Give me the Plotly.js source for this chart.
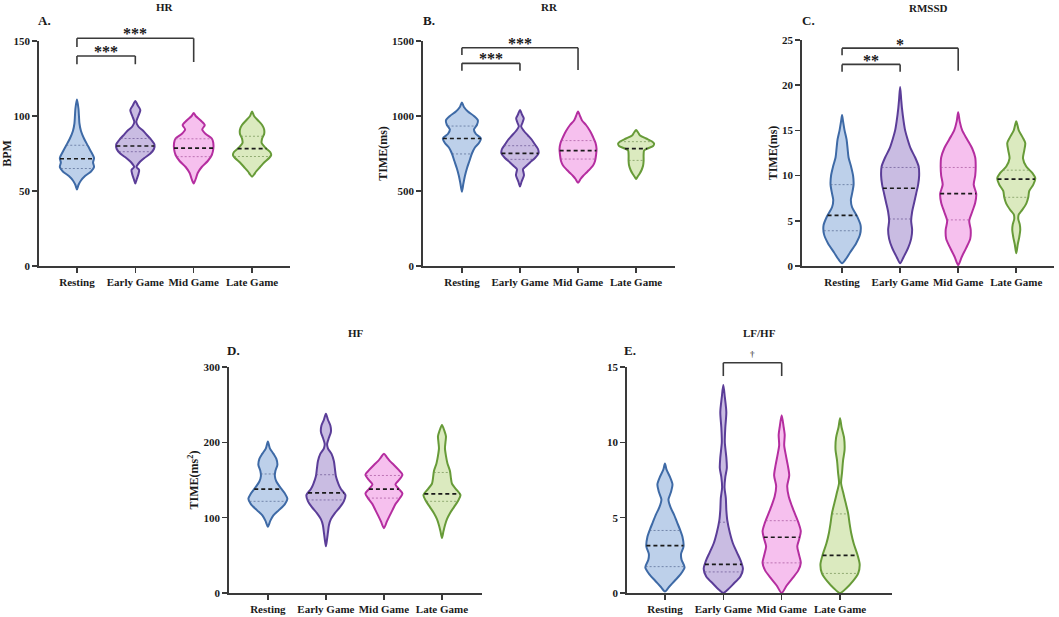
<!DOCTYPE html>
<html>
<head>
<meta charset="utf-8">
<script src="https://cdn.plot.ly/plotly-3.0.1.min.js"></script>
<style>
  html, body { margin: 0; padding: 0; background: #fff; }
  #chart { width: 1059px; height: 617px; }
</style>
</head>
<body>
<div id="chart"></div>
<script>
// groups
var cats = ['Resting', 'Early Game', 'Mid Game', 'Late Game'];

// violin outlines: levels (top -> bottom) and relative density at each level

// A. HR (BPM)
var hrY = [
  [111, 105, 100, 95, 90, 85, 80, 75, 72, 69, 66, 63, 60, 57, 54, 51],
  [110, 107, 104, 100, 96, 93, 90, 87, 84, 81, 78, 75, 72, 69, 66, 64, 61, 58, 55],
  [102, 100, 97, 94, 91, 88, 85, 82, 78, 74, 70, 66, 62, 58, 55],
  [103, 100, 97, 94, 91, 88, 85, 82, 79, 76, 74, 72, 69, 66, 63, 61, 59.5]
];
var hrD = [
  [0, 1.5, 2, 2.5, 4, 7, 11, 15, 17, 16, 17, 14, 8, 4, 1.5, 0],
  [0, 2.5, 5, 3, 1, 3, 8, 12, 16, 19, 18.5, 15, 9, 4, 1.2, 3.8, 3, 1.5, 0],
  [0, 2, 7, 11, 8.5, 12, 18, 19.5, 19.5, 18, 14, 8, 4, 2, 0],
  [0, 2, 6, 10, 12, 12, 10, 9.5, 13, 18, 19, 17, 12, 8, 4, 2, 0]
];
var hrMed = [71.5, 80, 78.6, 78.2];
var hrQ1 = [65, 76.2, 72.9, 73];
var hrQ3 = [80.5, 85, 84.8, 86.5];

// B. RR (ms)
var rrY = [
  [1090, 1060, 1030, 1000, 970, 940, 910, 880, 850, 820, 790, 750, 700, 650, 600, 550, 495],
  [1040, 1010, 985, 955, 930, 900, 870, 840, 810, 780, 750, 720, 690, 665, 645, 625, 605, 585, 560, 530],
  [1030, 1000, 970, 940, 900, 860, 820, 780, 740, 700, 670, 640, 620, 600, 580, 555],
  [907, 890, 870, 850, 830, 815, 800, 785, 770, 740, 700, 670, 640, 615, 595, 580]
];
var rrD = [
  [0, 2, 6, 12, 16, 15, 12, 14, 19, 17, 13, 10, 7.5, 5, 3, 1.5, 0],
  [0, 2, 3.8, 2.5, 1.2, 4, 8, 12, 15, 18, 18.5, 15, 10, 6, 3, 3.5, 4, 3, 1.5, 0],
  [0, 2, 4, 8, 12, 15, 17.5, 18.5, 18, 17, 15, 11, 8, 5, 2.5, 0],
  [0, 2, 4, 10, 16, 18, 17, 12, 8, 7.5, 7.5, 7, 5.5, 3.5, 1.5, 0]
];
var rrMed = [850, 751, 769, 782];
var rrQ1 = [747, 711, 713, 704];
var rrQ3 = [933, 802, 836, 829];

// C. RMSSD (ms)
var rmY = [
  [16.7, 16, 15, 14, 13, 12, 11, 10, 9, 8, 7.3, 6.5, 5.5, 4.5, 3.5, 2.5, 1.5, 0.8, 0.3],
  [19.8, 18.5, 17.5, 16, 15, 14, 13, 12, 11, 10, 9, 8, 7, 6, 5, 4, 3, 2, 1, 0.3],
  [17, 16, 15, 14, 13, 12, 11, 10, 9, 8, 7, 6, 5, 4, 3, 2, 1, 0.1],
  [16, 15, 14.2, 13.6, 12.8, 11.9, 11, 10.3, 9.7, 9, 8.3, 7.6, 6.9, 6.2, 5.7, 5.2, 4.6, 4, 3.2, 2.4, 1.4]
];
var rmD = [
  [0, 1, 2.5, 4.5, 5.5, 6.5, 9, 11, 11.5, 10, 8.8, 10, 15, 18.5, 18, 14, 8, 4, 0],
  [0, 1, 1.8, 3.5, 5, 7.5, 10.5, 15, 18.5, 19, 18, 16, 14, 12, 11, 12, 11, 8, 3.5, 0],
  [0, 1.5, 4, 9, 14, 17, 17.5, 17, 15.5, 18, 17, 14, 11, 12.5, 12, 8, 3.5, 0],
  [0, 2.5, 6.5, 9, 8, 6.7, 10, 16, 19, 17, 13, 12, 10, 6, 2.5, 2, 3.5, 4, 3, 1.5, 0]
];
var rmMed = [5.6, 8.6, 8.0, 9.6];
var rmQ1 = [3.9, 5.2, 5.1, 7.6];
var rmQ3 = [9.0, 10.9, 10.9, 10.6];

// D. HF (ms^2)
var hfY = [
  [201, 192, 185, 178, 170, 162, 155, 148, 140, 132, 125, 118, 110, 103, 96, 88],
  [238, 230, 222, 214, 206, 198, 192, 185, 175, 165, 155, 145, 138, 130, 122, 114, 106, 98, 90, 80, 70, 62],
  [185, 180, 175, 170, 163, 157, 150, 144, 138, 132, 126, 118, 110, 102, 95, 86],
  [223, 215, 208, 200, 192, 182, 172, 162, 152, 145, 138, 130, 122, 114, 106, 98, 90, 82, 73]
];
var hfD = [
  [0, 2, 5.5, 8.5, 9.5, 7.5, 7, 8.5, 12.5, 17, 19.5, 17, 11, 5.5, 2.5, 0],
  [0, 2, 4.5, 5, 3, 1.2, 2, 5.5, 8, 9, 10, 12.5, 15, 19.5, 18, 14, 9, 5, 3, 2, 1, 0],
  [0, 3, 6, 10, 15, 18.5, 15, 11.5, 15, 18.5, 16, 11.5, 8.5, 5.5, 3, 0],
  [0, 2.5, 4, 3.5, 3, 4, 5.5, 8, 9, 10, 14, 18.5, 16, 12, 8, 5, 3, 1.5, 0]
];
var hfMed = [138, 133, 138, 131.5];
var hfQ1 = [121.7, 123.5, 126, 121.7];
var hfQ3 = [158, 157, 156, 160];

// E. LF/HF
var lfY = [
  [8.6, 8.2, 7.7, 7.2, 6.7, 6.2, 5.7, 5.2, 4.7, 4.2, 3.7, 3.1, 2.6, 2.2, 1.7, 1.2, 0.8, 0.4, 0.1],
  [13.8, 13, 12, 11, 10, 9, 8.3, 7.7, 7, 6.3, 5.5, 4.8, 4, 3.3, 2.7, 2.1, 1.6, 1.1, 0.6, 0.2, 0],
  [11.8, 11, 10.5, 9.8, 9.2, 8.5, 7.8, 7.1, 6.4, 5.8, 5.2, 4.6, 4.1, 3.6, 3.1, 2.6, 2, 1.5, 1, 0.5, 0],
  [11.6, 11, 10.3, 9.5, 8.8, 8, 7.3, 6.7, 6, 5.3, 4.6, 4, 3.3, 2.6, 1.9, 1.3, 0.8, 0.3, 0]
];
var lfD = [
  [0, 1.5, 5, 7.5, 6, 3.5, 5.5, 9, 12, 15, 17.5, 18.5, 16, 16.5, 19.5, 15, 9.5, 4, 0],
  [0, 1.5, 3, 2, 1.5, 3, 3.5, 2, 1.2, 2.5, 3, 4, 6.5, 9.5, 13.5, 17.5, 19.5, 17, 10, 4, 0],
  [0, 2, 3, 2.5, 4, 6, 7.5, 5.5, 7, 10, 13.5, 17, 19, 17.5, 15.5, 17, 19, 16.5, 11, 5, 0],
  [0, 1.5, 4, 4.5, 3, 2, 1, 3, 5.5, 8, 9.5, 11, 13.5, 17, 19.5, 18, 13, 6, 0]
];
var lfMed = [3.15, 1.9, 3.7, 2.5];
var lfQ1 = [1.75, 1.4, 2.0, 1.3];
var lfQ3 = [4.15, 4.7, 4.8, 5.25];

// styling
var lineCol = ['#3e6aa6', '#5b3d98', '#b52ea0', '#679b38'];
var fillCol = ['#bdd0ea', '#c9bce2', '#f6c0ee', '#dbeabf'];
var quartCol = ['rgba(90,110,150,0.75)', 'rgba(110,90,150,0.75)', 'rgba(170,90,160,0.75)', 'rgba(120,150,90,0.75)'];
var W = 1059, H = 617;
var dScale = 1 / 58; // density unit -> category units
var serif = 'Liberation Serif, Times New Roman, serif';
var axCol = '#3a3a3a';

// panel layout (pixel boxes of each plotting area)
var panels = [
  {n: '', xpx: [39, 290], ypx: [41, 266], xr: [-0.65, 3.65], ymax: 150, dtick: 50,
   Y: hrY, D: hrD, med: hrMed, q1: hrQ1, q3: hrQ3, title: 'HR', letter: 'A.', ytitle: 'BPM',
   titleY: 7, letterX: 44, letterY: 20,
   sig: [{a: 0, b: 1, top: 140, legA: 134.5, legB: 134.5, label: '***', ty: 145.5},
         {a: 0, b: 2, top: 151.8, legA: 146, legB: 136, label: '***', ty: 157.5}]},
  {n: '2', xpx: [423, 675], ypx: [41, 266], xr: [-0.67, 3.67], ymax: 1500, dtick: 500,
   Y: rrY, D: rrD, med: rrMed, q1: rrQ1, q3: rrQ3, title: 'RR', letter: 'B.', ytitle: 'TIME(ms)',
   titleY: 7, letterX: 429, letterY: 20,
   sig: [{a: 0, b: 1, top: 1351, legA: 1302, legB: 1302, label: '***', ty: 1413},
         {a: 0, b: 2, top: 1455, legA: 1407, legB: 1307, label: '***', ty: 1513}]},
  {n: '3', xpx: [802, 1054], ypx: [40, 266], xr: [-0.69, 3.65], ymax: 25, dtick: 5,
   Y: rmY, D: rmD, med: rmMed, q1: rmQ1, q3: rmQ3, title: 'RMSSD', letter: 'C.', ytitle: 'TIME(ms)',
   titleY: 8, letterX: 808, letterY: 20,
   sig: [{a: 0, b: 1, top: 22.3, legA: 21.5, legB: 21.5, label: '**', ty: 23.2},
         {a: 0, b: 2, top: 24.1, legA: 23.3, legB: 21.6, label: '*', ty: 24.9}]},
  {n: '4', xpx: [229, 482], ypx: [367, 593], xr: [-0.67, 3.69], ymax: 300, dtick: 100,
   Y: hfY, D: hfD, med: hfMed, q1: hfQ1, q3: hfQ3, title: 'HF', letter: 'D.', ytitle: 'TIME(ms<sup>2</sup>)',
   titleY: 333, letterX: 233, letterY: 350, sig: []},
  {n: '5', xpx: [627, 892], ypx: [367, 593], xr: [-0.65, 3.89], ymax: 15, dtick: 5,
   Y: lfY, D: lfD, med: lfMed, q1: lfQ1, q3: lfQ3, title: 'LF/HF', letter: 'E.', ytitle: null,
   titleY: 333, letterX: 630, letterY: 350,
   sig: [{a: 1, b: 2, top: 15.28, legA: 14.4, legB: 14.4, label: '\u2020', ty: 15.85, small: true}]}
];

// width of a violin at level v (linear between read levels)
function widthAt(Y, D, v) {
  for (var k = 0; k < Y.length - 1; k++) {
    if (v <= Y[k] && v >= Y[k + 1]) {
      var t = (Y[k] - v) / (Y[k] - Y[k + 1]);
      return D[k] + t * (D[k + 1] - D[k]);
    }
  }
  return 0;
}

var data = [];
var layout = {
  width: W, height: H,
  margin: {l: 0, r: 0, t: 0, b: 0},
  paper_bgcolor: '#ffffff', plot_bgcolor: 'rgba(0,0,0,0)',
  showlegend: false,
  font: {family: serif, color: '#1a1a1a'},
  shapes: [], annotations: []
};

panels.forEach(function (p) {
  var xa = 'x' + p.n, ya = 'y' + p.n;
  var x0 = p.xpx[0], x1 = p.xpx[1], y0 = p.ypx[0], y1 = p.ypx[1];
  function px(i) { return x0 + (i - p.xr[0]) / (p.xr[1] - p.xr[0]) * (x1 - x0); }
  function py(v) { return y1 - v / p.ymax * (y1 - y0); }

  layout['xaxis' + p.n] = {
    domain: [x0 / W, x1 / W], range: p.xr, anchor: ya, fixedrange: true,
    showline: true, linecolor: axCol, linewidth: 1.8, mirror: false,
    ticks: 'outside', ticklen: 5, tickwidth: 1.6, tickcolor: axCol,
    tickvals: [0, 1, 2, 3], ticktext: cats, showgrid: false, zeroline: false,
    tickfont: {family: serif, size: 11, color: '#1a1a1a', weight: 'bold'}
  };
  var tv = [];
  for (var v = 0; v <= p.ymax; v += p.dtick) tv.push(v);
  var yax = {
    domain: [1 - y1 / H, 1 - y0 / H], range: [0, p.ymax], anchor: xa, fixedrange: true,
    showline: true, linecolor: axCol, linewidth: 1.8,
    ticks: 'outside', ticklen: 5, tickwidth: 1.6, tickcolor: axCol,
    tickvals: tv, showgrid: false, zeroline: false,
    tickfont: {family: serif, size: 11, color: '#1a1a1a', weight: 'bold'}
  };
  if (p.ytitle) {
    yax.title = {text: p.ytitle, standoff: 2, font: {family: serif, size: 12, color: '#1a1a1a', weight: 'bold'}};
  }
  layout['yaxis' + p.n] = yax;

  // violins
  for (var i = 0; i < 4; i++) {
    var Y = p.Y[i], D = p.D[i], xs = [], ys = [], k;
    for (k = Y.length - 1; k >= 0; k--) { xs.push(i + D[k] * dScale); ys.push(Y[k]); }
    for (k = 1; k < Y.length; k++) { xs.push(i - D[k] * dScale); ys.push(Y[k]); }
    data.push({
      type: 'scatter', mode: 'lines', x: xs, y: ys, xaxis: xa, yaxis: ya,
      fill: 'toself', fillcolor: fillCol[i],
      line: {color: lineCol[i], width: 2, shape: 'spline', smoothing: 0.75},
      hoverinfo: 'skip'
    });
    // quartiles (dotted)
    [p.q1[i], p.q3[i]].forEach(function (q) {
      var w = widthAt(Y, D, q) * dScale;
      data.push({type: 'scatter', mode: 'lines', x: [i - w, i + w], y: [q, q], xaxis: xa, yaxis: ya,
        line: {color: quartCol[i], width: 1, dash: '2px,2px'}, hoverinfo: 'skip'});
    });
    // median (dashed)
    var wm = widthAt(Y, D, p.med[i]) * dScale;
    data.push({type: 'scatter', mode: 'lines', x: [i - wm, i + wm], y: [p.med[i], p.med[i]], xaxis: xa, yaxis: ya,
      line: {color: '#1a1a1a', width: 1.7, dash: '4px,3px'}, hoverinfo: 'skip'});
  }

  // panel title and letter
  layout.annotations.push({xref: 'paper', yref: 'paper', x: (x0 + x1) / 2 / W, y: 1 - p.titleY / H,
    text: '<b>' + p.title + '</b>', showarrow: false, xanchor: 'center', yanchor: 'middle',
    font: {family: serif, size: 11, color: '#1a1a1a'}});
  layout.annotations.push({xref: 'paper', yref: 'paper', x: p.letterX / W, y: 1 - p.letterY / H,
    text: '<b>' + p.letter + '</b>', showarrow: false, xanchor: 'center', yanchor: 'middle',
    font: {family: serif, size: 13, color: '#1a1a1a'}});

  // significance brackets
  p.sig.forEach(function (s) {
    var xa0 = px(s.a) / W, xb0 = px(s.b) / W, yt = 1 - py(s.top) / H;
    var segs = [[xa0, 1 - py(s.legA) / H, xa0, yt], [xa0, yt, xb0, yt], [xb0, yt, xb0, 1 - py(s.legB) / H]];
    segs.forEach(function (g) {
      layout.shapes.push({type: 'line', xref: 'paper', yref: 'paper', x0: g[0], y0: g[1], x1: g[2], y1: g[3],
        line: {color: axCol, width: 1.6}});
    });
    layout.annotations.push({xref: 'paper', yref: 'paper', x: (xa0 + xb0) / 2, y: 1 - py(s.ty) / H,
      text: '<b>' + s.label + '</b>', showarrow: false, xanchor: 'center', yanchor: 'middle',
      yshift: s.small ? 0 : -4,
      font: {family: serif, size: s.small ? 9 : 16, color: s.small ? '#555555' : '#1a1a1a'}});
  });
});

Plotly.newPlot('chart', data, layout, {displayModeBar: false, staticPlot: true});
</script>
</body>
</html>
